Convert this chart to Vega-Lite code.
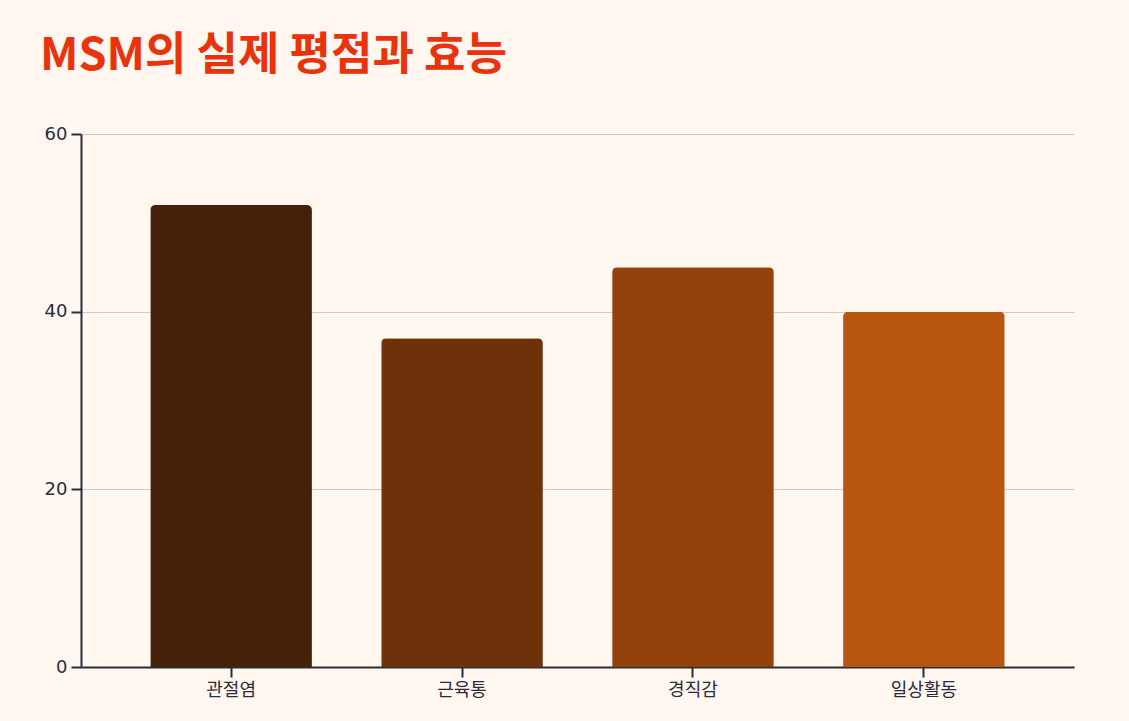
{
  "$schema": "https://vega.github.io/schema/vega-lite/v6.json",
  "width": 1129,
  "height": 721,
  "autosize": {"type": "fit", "contains": "padding"},
  "padding": {"left": 40, "top": 34, "right": 55, "bottom": 22},
  "background": "#fff7f0",
  "title": {
    "text": "MSM의 실제 평점과 효능",
    "anchor": "start",
    "frame": "bounds",
    "font": "Noto Sans CJK KR",
    "fontSize": 45,
    "fontWeight": "bold",
    "offset": 46,
    "dx": -4,
    "color": "#e8330c"
  },
  "data": {
    "values": [
      {"category": "관절염", "value": 52},
      {"category": "근육통", "value": 37},
      {"category": "경직감", "value": 45},
      {"category": "일상활동", "value": 40}
    ]
  },
  "mark": {"type": "bar", "cornerRadiusTopLeft": 5, "cornerRadiusTopRight": 5},
  "encoding": {
    "x": {
      "field": "category",
      "type": "nominal",
      "sort": null,
      "scale": {"paddingInner": 0.3, "paddingOuter": 0.3},
      "axis": {"title": null, "labelAngle": 0, "grid": false, "labelPadding": 4}
    },
    "y": {
      "field": "value",
      "type": "quantitative",
      "scale": {"domain": [0, 60]},
      "axis": {"title": null, "values": [0, 20, 40, 60], "grid": true, "labelPadding": 4}
    },
    "color": {
      "field": "category",
      "type": "nominal",
      "sort": null,
      "scale": {"domain": ["관절염", "근육통", "경직감", "일상활동"], "range": ["#45210a", "#6d3209", "#94420c", "#b8560f"]},
      "legend": null
    }
  },
  "config": {
    "view": {"stroke": null},
    "axis": {
      "domainColor": "#2a2d3a",
      "domainWidth": 2,
      "tickColor": "#2a2d3a",
      "tickWidth": 2,
      "tickSize": 10,
      "labelColor": "#2a2d3a",
      "labelFont": "DejaVu Sans, Noto Sans CJK KR",
      "labelFontSize": 18,
      "gridColor": "#cfcac5",
      "gridWidth": 1
    }
  }
}
